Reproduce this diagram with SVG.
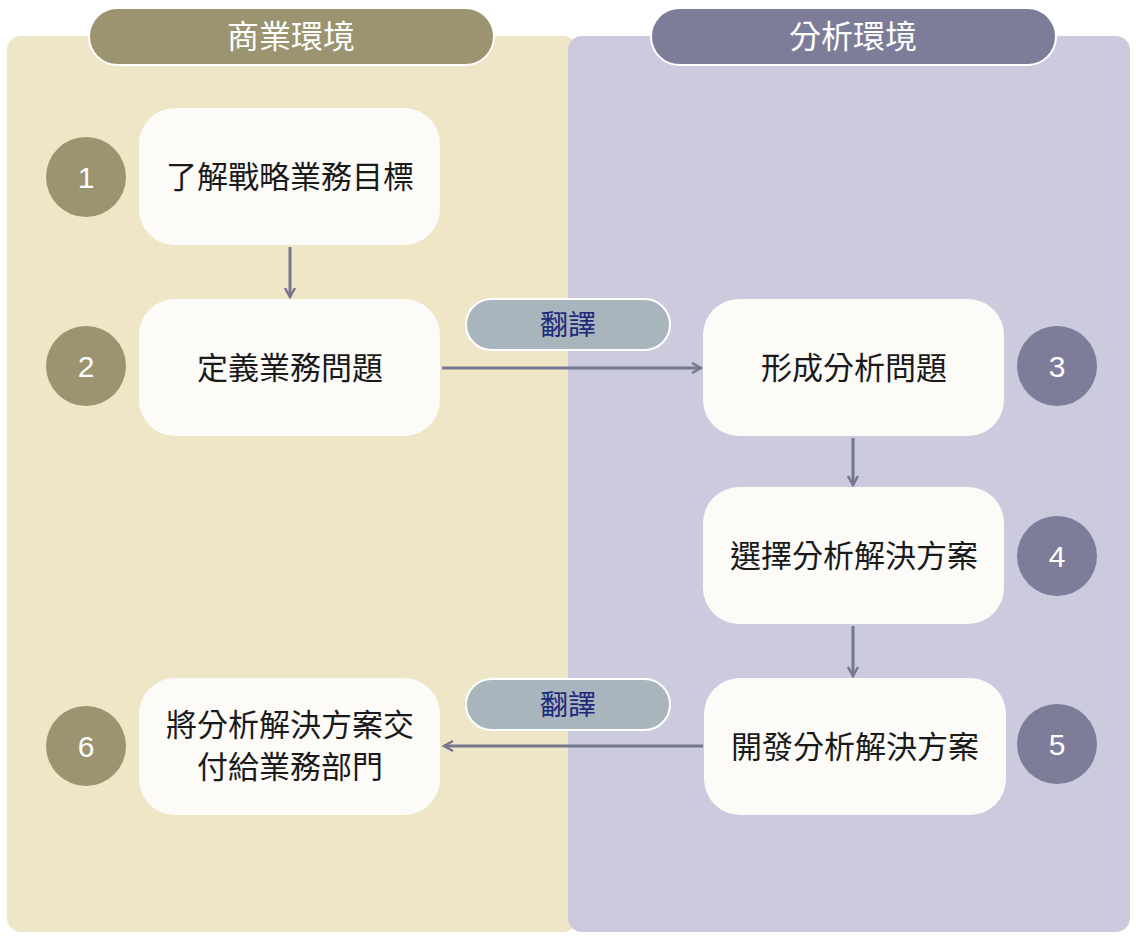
<svg xmlns="http://www.w3.org/2000/svg" width="1136" height="939" viewBox="0 0 1136 939">
<style>
.node rect{fill:#fcfbf8}
.nt{font-family:"Noto Sans CJK TC","Noto Sans CJK SC",sans-serif;font-size:31px;fill:#1a1a1a;text-anchor:middle}
.num{font-family:"Liberation Sans",sans-serif;font-size:30px;fill:#fff;text-anchor:middle}
.hd{font-family:"Noto Sans CJK TC",sans-serif;font-size:32px;fill:#fff;text-anchor:middle}
.tr{font-family:"Noto Sans CJK TC",sans-serif;font-size:28px;fill:#1d2a7a;text-anchor:middle}
.c1{fill:#9c9370}.c2{fill:#7d7d99}
.conn{stroke:#76768f;stroke-width:3;fill:none;marker-end:url(#a)}
</style>
<defs><marker id="a" viewBox="0 0 12 12" refX="10" refY="6" markerWidth="12" markerHeight="12" orient="auto" markerUnits="userSpaceOnUse" style="overflow:visible"><path d="M1,1 L10,6 L1,11" fill="none" stroke="#76768f" stroke-width="2.5"/></marker></defs>
<rect width="1136" height="939" fill="#fff"/>
<g id="lane-business"><rect x="7" y="36" width="570" height="896" rx="14" fill="#efe6c8"/>
<rect x="89" y="8" width="405" height="57" rx="28.5" class="c1" stroke="#fff" stroke-width="2"/><text x="291" y="48" class="hd">商業環境</text></g>
<g id="lane-analytics"><rect x="568" y="36" width="562" height="896" rx="14" fill="#cbcbdd"/>
<rect x="651" y="8" width="405" height="57" rx="28.5" class="c2" stroke="#fff" stroke-width="2"/><text x="853" y="48" class="hd">分析環境</text></g>
<g id="connectors">
<line x1="290" y1="247" x2="290" y2="297" class="conn"/>
<line x1="442" y1="368" x2="701" y2="368" class="conn"/>
<line x1="853" y1="438" x2="853" y2="485" class="conn"/>
<line x1="853" y1="626" x2="853" y2="676" class="conn"/>
<line x1="703" y1="746" x2="444" y2="746" class="conn"/>
</g>
<g id="label1"><rect x="466" y="299" width="204" height="51" rx="25.5" fill="#a9b5bd" stroke="#fff" stroke-width="2"/><text x="568" y="335" class="tr">翻譯</text></g>
<g id="label2"><rect x="466" y="679" width="204" height="51" rx="25.5" fill="#a9b5bd" stroke="#fff" stroke-width="2"/><text x="568" y="715" class="tr">翻譯</text></g>
<g id="n1" class="node"><rect x="139" y="108" width="301" height="137" rx="36"/><text x="290" y="188" class="nt">了解戰略業務目標</text><circle cx="86" cy="177" r="40" class="c1"/><text x="86" y="188" class="num">1</text></g>
<g id="n2" class="node"><rect x="139" y="299" width="301" height="137" rx="36"/><text x="290" y="379" class="nt">定義業務問題</text><circle cx="86" cy="366" r="40" class="c1"/><text x="86" y="377" class="num">2</text></g>
<g id="n3" class="node"><rect x="703" y="299" width="301" height="137" rx="36"/><text x="854" y="379" class="nt">形成分析問題</text><circle cx="1057" cy="366" r="40" class="c2"/><text x="1057" y="377" class="num">3</text></g>
<g id="n4" class="node"><rect x="703" y="487" width="301" height="137" rx="36"/><text x="854" y="567" class="nt">選擇分析解決方案</text><circle cx="1057" cy="556" r="40" class="c2"/><text x="1057" y="567" class="num">4</text></g>
<g id="n5" class="node"><rect x="704" y="678" width="302" height="137" rx="36"/><text x="855" y="758" class="nt">開發分析解決方案</text><circle cx="1057" cy="744" r="40" class="c2"/><text x="1057" y="755" class="num">5</text></g>
<g id="n6" class="node"><rect x="139" y="678" width="301" height="137" rx="36"/><text x="290" y="736" class="nt">將分析解決方案交</text><text x="290" y="778" class="nt">付給業務部門</text><circle cx="86" cy="746" r="40" class="c1"/><text x="86" y="757" class="num">6</text></g>
</svg>
